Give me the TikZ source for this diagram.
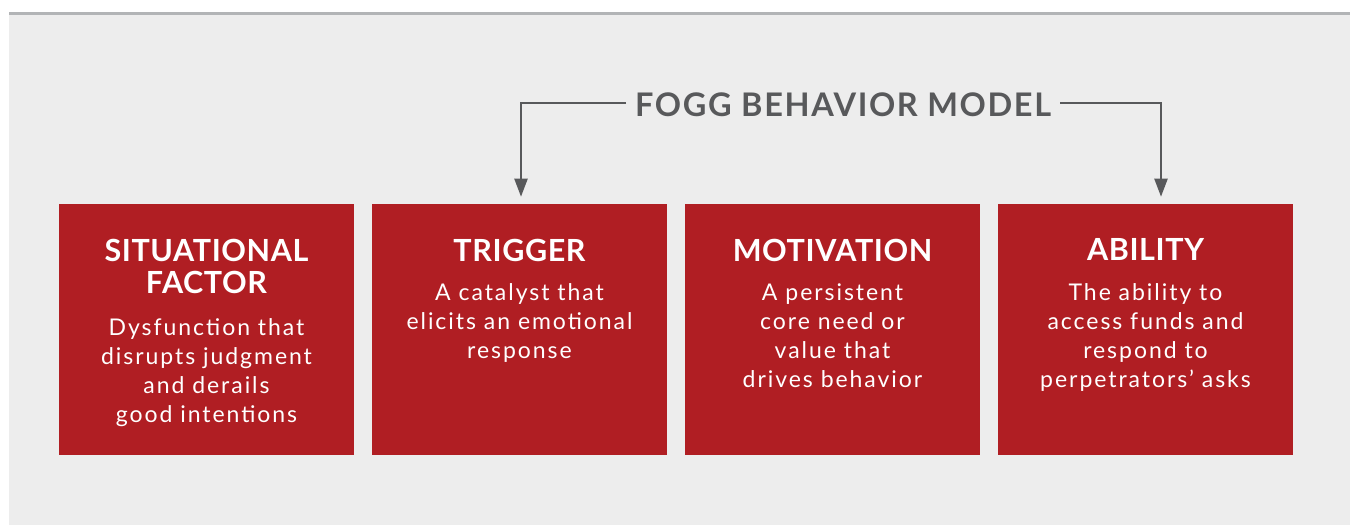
\documentclass[tikz,border=0pt]{standalone}
\usepackage{fontspec}
\setmainfont{Lato}
\newfontfamily\bodyface{Lato}[LetterSpace=8.5]
\newfontfamily\headface{Lato}[LetterSpace=2]
\newfontfamily\modelface{Lato}[LetterSpace=5]
\usetikzlibrary{arrows.meta}

\definecolor{pagebg}{HTML}{EDEDED}
\definecolor{ruleline}{HTML}{B2B4B6}
\definecolor{boxred}{HTML}{B01E23}
\definecolor{inkgrey}{HTML}{58595B}

\tikzset{
  redbox/.style={fill=boxred, draw=none, minimum width=295pt, minimum height=251pt,
    inner sep=0pt, anchor=north west},
  boxtitle/.style={text=white, anchor=north, align=center, inner sep=0pt,
    font=\headface\bfseries\fontsize{30.5}{31.5}\selectfont},
  boxbody/.style={text=white, anchor=north, align=center, inner sep=0pt,
    font=\bodyface\fontsize{23}{29}\selectfont},
  modeltitle/.style={text=inkgrey, anchor=base west, inner xsep=9pt, inner ysep=0pt,
    text height=26.8pt, text depth=0pt, font=\modelface\bfseries\fontsize{32.5}{34}\selectfont},
  connector/.style={draw=inkgrey, line width=2.2pt,
    -{Triangle[width=13pt,length=18pt]}},
}

\begin{document}
\begin{tikzpicture}[x=1pt, y=-1pt]
  % page area and panel
  \useasboundingbox (0,0) rectangle (1353,525);
  \fill[white] (0,0) rectangle (1353,525);
  \fill[pagebg] (9,14) rectangle (1350,525);
  \fill[ruleline] (9,11.5) rectangle (1350,14.5);

  % the four factor boxes
  \node[redbox] (sit) at (59,204) {};
  \node[redbox] (trig) at (372,204) {};
  \node[redbox] (mot) at (685,204) {};
  \node[redbox] (abil) at (998,204) {};

  % box texts
  \node[boxtitle] (sitT) at (206.5,238.6) {\strut SITUATIONAL\\FACTOR};
  \node[boxbody] (sitB) at (206.5,315.4) {\strut Dysfunction that\\disrupts judgment\\and derails\\good intentions};

  \node[boxtitle] (trigT) at (519.5,238.6) {\strut TRIGGER};
  \node[boxbody] (trigB) at (519.5,280.2) {\strut A catalyst that\\elicits an emotional\\response};

  \node[boxtitle] (motT) at (832.5,238.6) {\strut MOTIVATION};
  \node[boxbody] (motB) at (832.5,280.2) {\strut A persistent\\core need or\\value that\\drives behavior};

  \node[boxtitle] (abilT) at (1145.5,238.6) {\strut ABILITY};
  \node[boxbody] (abilB) at (1145.5,280.2) {\strut The ability to\\access funds and\\respond to\\perpetrators’ asks};

  % heading with its two connectors
  \node[modeltitle] (model) at (626,116.7) {FOGG BEHAVIOR MODEL};
  \coordinate (tipL) at (521,196.7);
  \coordinate (tipR) at (1161,196.7);
  \draw[connector] (model.west) -| (tipL);
  \draw[connector] (model.east) -| (tipR);
\end{tikzpicture}
\end{document}
